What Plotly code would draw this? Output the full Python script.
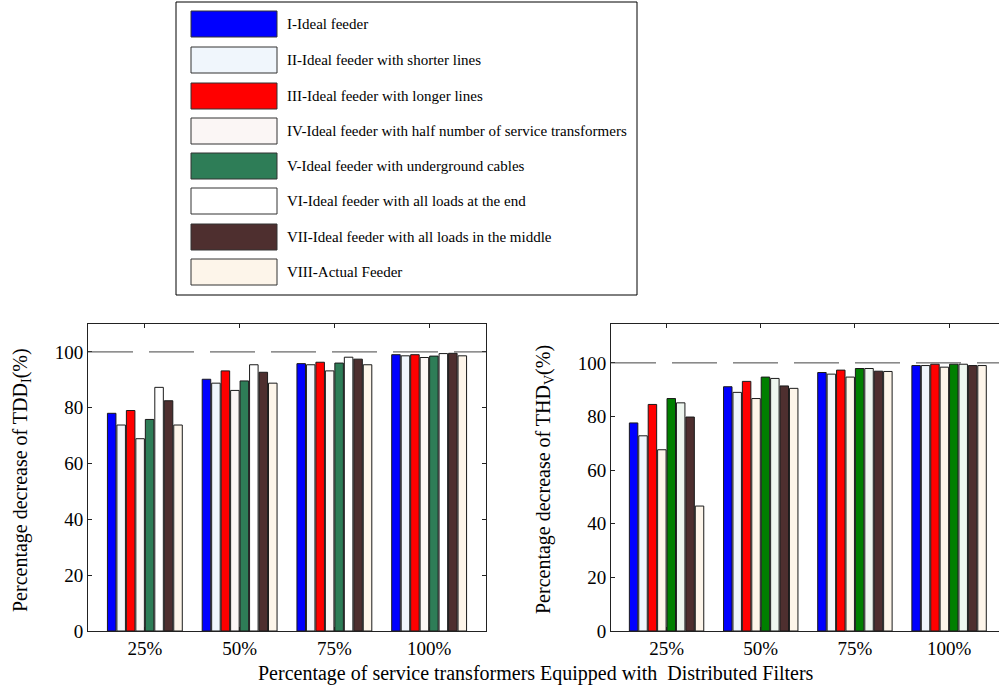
import plotly.graph_objects as go

# Categories (share of service transformers fitted with distributed filters)
categories = ["25%", "50%", "75%", "100%"]

# Feeder cases
series_names = [
    "I-Ideal feeder",
    "II-Ideal feeder with shorter lines",
    "III-Ideal feeder with longer lines",
    "IV-Ideal feeder with half number of service transformers",
    "V-Ideal feeder with underground cables",
    "VI-Ideal feeder with all loads at the end",
    "VII-Ideal feeder with all loads in the middle",
    "VIII-Actual Feeder",
]

# Percentage decrease of TDD_I, one row per feeder case
tdd_values = [
    [78.0, 90.2, 95.8, 99.0],
    [73.8, 88.8, 95.4, 98.6],
    [79.0, 93.2, 96.3, 99.0],
    [68.9, 86.2, 93.2, 98.0],
    [75.8, 89.6, 96.0, 98.5],
    [87.3, 95.4, 98.1, 99.4],
    [82.5, 92.7, 97.4, 99.5],
    [73.8, 88.8, 95.4, 98.6],
]

# Percentage decrease of THD_V, one row per feeder case
thd_values = [
    [77.6, 91.1, 96.4, 99.0],
    [72.8, 89.0, 95.8, 99.0],
    [84.5, 93.1, 97.3, 99.5],
    [67.6, 86.7, 94.7, 98.4],
    [86.7, 94.7, 97.9, 99.5],
    [85.1, 94.2, 97.9, 99.5],
    [79.8, 91.4, 96.9, 99.0],
    [46.6, 90.5, 96.8, 99.0],
]

y_ticks = [0, 20, 40, 60, 80, 100]
reference_level = 100

# Fill colours for each panel
colors_left = ["#0000ff", "#f0f6fc", "#ff0000", "#fbf6f5",
               "#2e7d57", "#ffffff", "#4e2f2f", "#fdf5ea"]
colors_right = ["#0000ff", "#f0f6fc", "#ff0000", "#fdf5ea",
                "#007f00", "#eef6ef", "#4e2f2f", "#fdf5ea"]

W, H = 999, 687
FONT = "Liberation Serif, Times New Roman, serif"


def px(x):
    return x / W


def py(y):
    return 1 - y / H


fig = go.Figure()

for name, vals, col in zip(series_names, tdd_values, colors_left):
    fig.add_trace(go.Bar(
        x=categories, y=vals, name=name, xaxis="x", yaxis="y",
        marker=dict(color=col, line=dict(color="#1a1a1a", width=1)),
        showlegend=False,
    ))

for name, vals, col in zip(series_names, thd_values, colors_right):
    fig.add_trace(go.Bar(
        x=categories, y=vals, name=name, xaxis="x2", yaxis="y2",
        marker=dict(color=col, line=dict(color="#1a1a1a", width=1)),
        showlegend=False,
    ))

y_top, y_bot = 324, 631
tickfont = dict(family=FONT, size=19, color="black")

axis_common = dict(
    showgrid=False, zeroline=False, showline=True, linecolor="#222",
    linewidth=1, ticks="inside", ticklen=4, tickcolor="#222",
    tickfont=tickfont, automargin=False,
)

fig.update_layout(
    width=W, height=H, autosize=False,
    margin=dict(l=0, r=0, t=0, b=0, pad=0, autoexpand=False),
    paper_bgcolor="white", plot_bgcolor="white",
    barmode="group", bargap=0.2, bargroupgap=0.1,
    xaxis=dict(domain=[px(88), px(486)], anchor="y", type="category",
               range=[-0.6, 3.6], mirror="ticks", **axis_common),
    yaxis=dict(domain=[py(y_bot), py(y_top)], anchor="x",
               range=[0, 110], tickvals=y_ticks, mirror="ticks",
               **axis_common),
    xaxis2=dict(domain=[px(611), 1.0], anchor="y2", type="category",
                range=[-0.59, 3.53], mirror="ticks", **axis_common),
    yaxis2=dict(domain=[py(y_bot), py(y_top)], anchor="x2",
                range=[0, 114.5], tickvals=y_ticks, mirror=False,
                **axis_common),
)

# Dashed 100 % reference lines
for xr, yr in (("x domain", "y"), ("x2 domain", "y2")):
    fig.add_shape(type="line", xref=xr, yref=yr, x0=0, x1=1,
                  y0=reference_level, y1=reference_level,
                  line=dict(color="#444", width=1, dash="45px,16px"))

# Axis titles
title_font = dict(family=FONT, size=20, color="black")
fig.add_annotation(text="Percentage of service transformers Equipped with  Distributed Filters",
                   xref="paper", yref="paper", x=px(536), y=py(673),
                   xanchor="center", yanchor="middle",
                   showarrow=False, font=title_font)
fig.add_annotation(text="Percentage decrease of TDD<sub>I</sub>(%)",
                   xref="paper", yref="paper", x=px(21), y=py(480),
                   xanchor="center", yanchor="middle",
                   textangle=-90, showarrow=False, font=title_font)
fig.add_annotation(text="Percentage decrease of THD<sub>V</sub>(%)",
                   xref="paper", yref="paper", x=px(544), y=py(480),
                   xanchor="center", yanchor="middle",
                   textangle=-90, showarrow=False, font=title_font)

# Shared legend box drawn with swatches and labels
fig.add_shape(type="rect", xref="paper", yref="paper",
              x0=px(176), x1=px(637), y0=py(295), y1=py(2),
              line=dict(color="black", width=1), fillcolor="white", layer="below")
row_centers = [24, 60, 96, 131, 166, 201, 237, 272]
for name, col, yc in zip(series_names, colors_left, row_centers):
    fig.add_shape(type="rect", xref="paper", yref="paper",
                  x0=px(191), x1=px(277), y0=py(yc + 13), y1=py(yc - 13),
                  line=dict(color="#333", width=1), fillcolor=col)
    fig.add_annotation(text=name, xref="paper", yref="paper",
                       x=px(285), y=py(yc), xanchor="left", yanchor="middle",
                       showarrow=False,
                       font=dict(family=FONT, size=15, color="black"))

fig.write_html("out.html")
